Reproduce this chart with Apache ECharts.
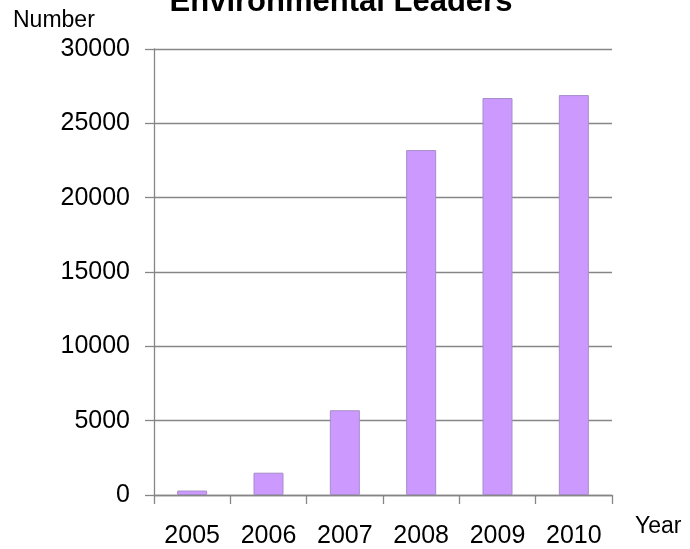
<!DOCTYPE html>
<html>
<head>
<meta charset="utf-8">
<script src="https://cdn.jsdelivr.net/npm/echarts@6/dist/echarts.min.js"></script>
<style>html,body{margin:0;padding:0;background:#fff}#c{width:690px;height:549px}</style>
</head>
<body>
<div id="c"></div>
<script>
var categories = ['2005', '2006', '2007', '2008', '2009', '2010'];
var values = [300, 1500, 5700, 23200, 26700, 26900];
var yTicks = [0, 5000, 10000, 15000, 20000, 25000, 30000];
var titleText = 'Environmental Leaders';
var yName = 'Number';
var xName = 'Year';

var FONT = '"Liberation Sans", Arial, Helvetica, sans-serif';
var AX = '#868686';
var chart = echarts.init(document.getElementById('c'), null, {renderer: 'canvas'});
chart.setOption({
  animation: false,
  backgroundColor: '#fff',
  title: {
    text: titleText,
    left: 341, textAlign: 'center', top: -13, padding: 0,
    textStyle: {fontFamily: FONT, fontSize: 31, fontWeight: 'bold', color: '#000'}
  },
  graphic: [
    {type: 'text', left: 13, top: 9, style: {text: yName, font: '23px ' + FONT, fill: '#000'}},
    {type: 'text', left: 635, top: 515, style: {text: xName, font: '23px ' + FONT, fill: '#000'}}
  ],
  grid: {left: 154, right: 78, top: 49, bottom: 52, containLabel: false},
  xAxis: {
    type: 'category',
    data: categories,
    boundaryGap: true,
    axisLine: {show: true, lineStyle: {color: AX, width: 1.3}},
    axisTick: {show: true, length: 9, inside: false, lineStyle: {color: AX, width: 1.3}},
    axisLabel: {margin: 29, fontFamily: FONT, fontSize: 25, color: '#000', interval: 0}
  },
  yAxis: {
    type: 'value',
    min: yTicks[0], max: yTicks[yTicks.length - 1], interval: yTicks[1] - yTicks[0],
    axisLine: {show: true, lineStyle: {color: AX, width: 1.3}},
    axisTick: {show: true, length: 9, inside: false, lineStyle: {color: AX, width: 1.3}},
    splitLine: {show: true, lineStyle: {color: AX, width: 1.3}},
    axisLabel: {margin: 24, fontFamily: FONT, fontSize: 25, color: '#000', formatter: function (v) { return String(v); }}
  },
  series: [{
    type: 'bar',
    data: values,
    barWidth: 30,
    itemStyle: {color: '#CC99FF', borderColor: '#a68dc8', borderWidth: 1}
  }]
});
</script>
</body>
</html>
